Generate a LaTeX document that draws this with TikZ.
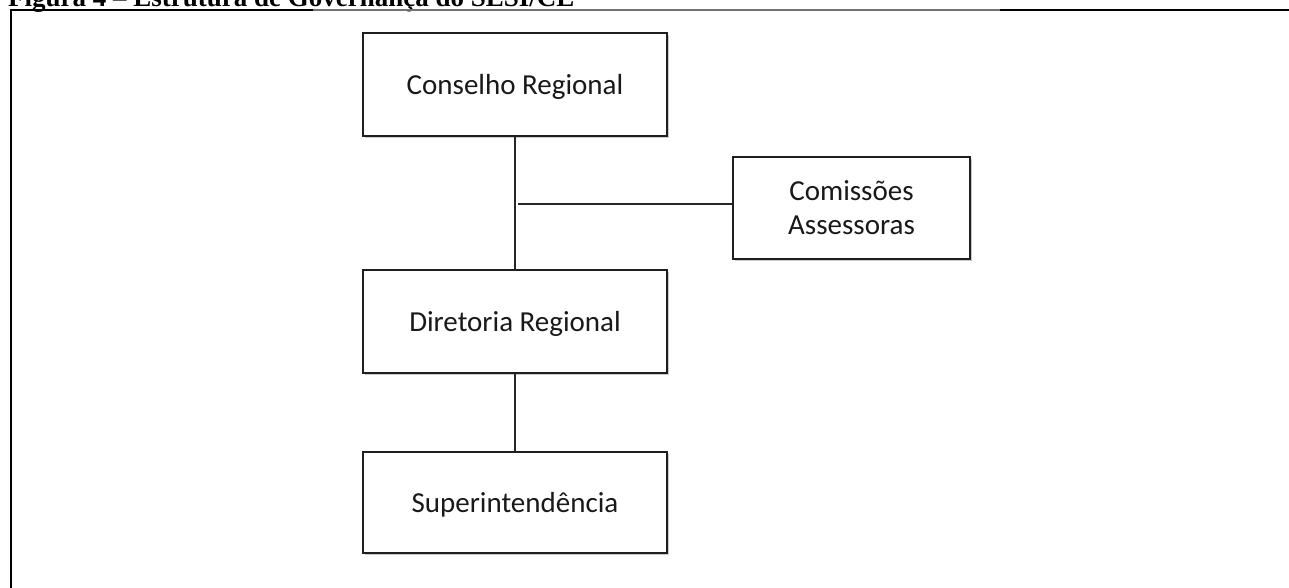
\documentclass[tikz,border=0pt]{standalone}
\usepackage{fontspec}
\setmainfont{Carlito}
\newfontfamily\capfont{Liberation Serif}
\usetikzlibrary{shadows}
\begin{document}
\begin{tikzpicture}[x=1pt,y=-1pt,
  orgbox/.style={draw=black!88, line width=1.5pt, fill=white, minimum width=304pt, minimum height=103pt,
    inner sep=0pt, align=center, font=\fontsize{29}{34}\selectfont, text=black!90, text depth=0pt,
    drop shadow={shadow xshift=1.6pt, shadow yshift=-1.8pt, opacity=0.35, fill=black!60}},
  link/.style={draw=black!85, line width=1.3pt},
  frameblack/.style={draw=black, line width=2.2pt},
  framegray/.style={draw=black!55, line width=1.4pt}]
\useasboundingbox (0,0) rectangle (1289,587);
\node[anchor=base west, font=\capfont\bfseries\fontsize{27}{30}\selectfont, inner sep=0pt] (cap) at (8,6) {Figura 4 – Estrutura de Governança do SESI/CE};
\coordinate (fl) at (10.6,9.9);
\coordinate (fb) at (10.6,590);
\coordinate (g1) at (313,9.9);
\coordinate (g2) at (1000,9.9);
\coordinate (fr) at (1292,9.9);
\draw[frameblack] (fb) -- (fl) -- (g1);
\draw[framegray] (g1) -- (g2);
\draw[frameblack] (g2) -- (fr);
\node[orgbox] (cr) at (515,84.5) {Conselho Regional};
\node[orgbox, minimum width=237pt, minimum height=102pt] (ca) at (851.5,208) {Comissões\\Assessoras};
\node[orgbox] (dr) at (515,321.5) {Diretoria Regional};
\node[orgbox, minimum height=101pt] (su) at (515,502.5) {Superintendência};
\coordinate (j) at (518,204);
\draw[link] (cr.south) -- (dr.north);
\draw[link] (dr.south) -- (su.north);
\draw[link] (j) -- (j -| ca.west);
\end{tikzpicture}
\end{document}
